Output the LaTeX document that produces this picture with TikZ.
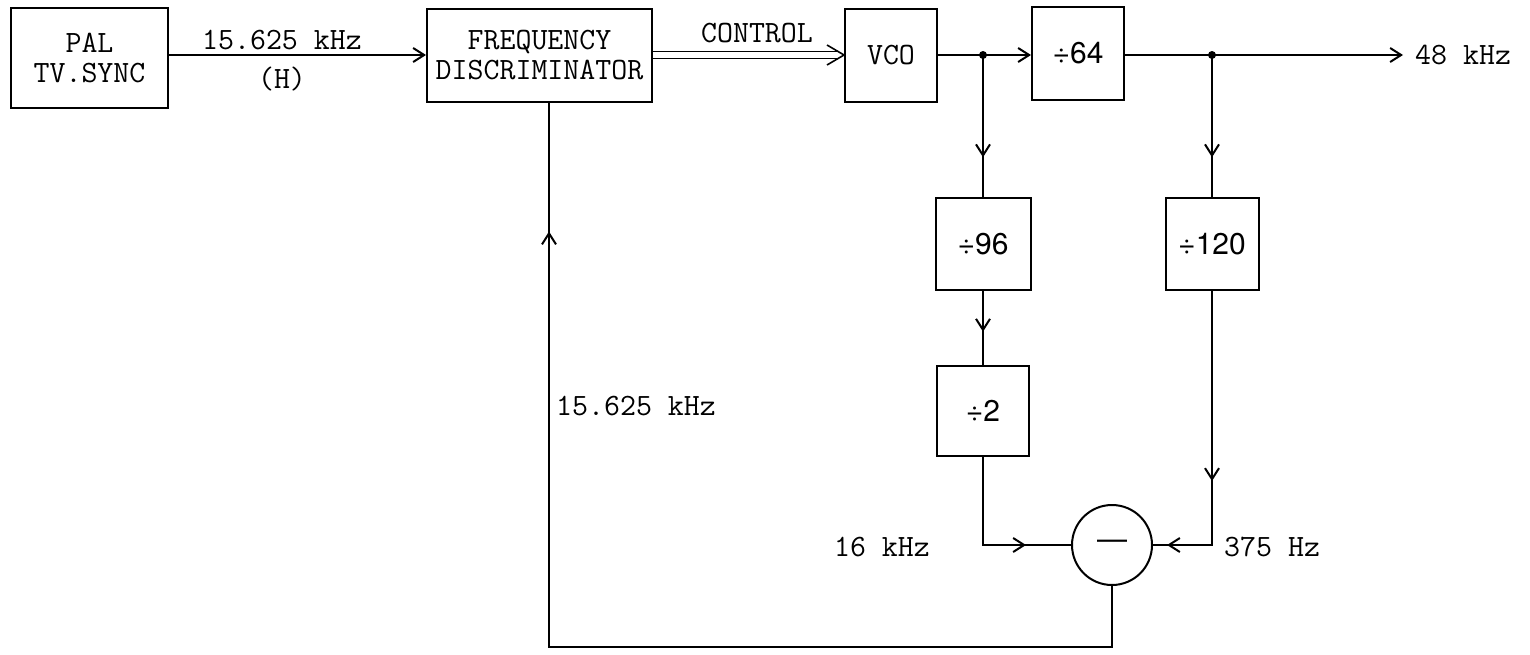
\documentclass[tikz,border=0pt]{standalone}
\usepackage{fontspec}
\newfontfamily\hv{TeX Gyre Heros}
\usetikzlibrary{arrows.meta,decorations.markings,calc}
\tikzset{
  tipA/.tip={Straight Barb[length=11pt,width=14pt]},
  blk/.style={draw, line width=2pt, align=center, inner sep=0pt, font=\fontsize{31}{30}\selectfont\ttfamily},
  dv/.style={blk, font=\fontsize{30}{34}\selectfont\hv},
  conn/.style={line width=2pt},
  lbl/.style={font=\fontsize{31}{35}\selectfont\ttfamily, inner sep=0pt},
  marr/.style={postaction={decorate, decoration={markings, mark=at position #1 with {\arrow{tipA}}}}},
  dot/.style={circle, fill, inner sep=0pt, minimum size=8pt}
}
\begin{document}
\begin{tikzpicture}[x=1pt,y=-1pt]
\useasboundingbox (0,0) rectangle (1530,654);
% blocks
\node[blk, minimum width=157pt, minimum height=100pt] (pal) at (89.5,58) {PAL\\TV.SYNC};
\node[blk, minimum width=225pt, minimum height=93pt] (freq) at (539.5,55) {FREQUENCY\\DISCRIMINATOR};
\node[blk, minimum width=92pt, minimum height=93pt] (vco) at (891,55) {VCO};
\node[dv, minimum width=92pt, minimum height=93pt] (d64) at (1078,53) {÷64};
\node[dv, minimum width=95pt, minimum height=92pt] (d96) at (983,244) {÷96};
\node[dv, minimum width=92pt, minimum height=90pt] (d2) at (983,411) {÷2};
\node[dv, minimum width=93pt, minimum height=92pt] (d120) at (1212,244) {÷120};
\node[draw, circle, line width=2pt, minimum size=80pt, inner sep=0pt, font=\fontsize{30}{34}\selectfont\hv] (sub) at (1112,545) {—};
% junctions
\coordinate (j1) at (983,55);
\coordinate (j2) at (1212,55);
\coordinate (out) at (1403,55);
\coordinate (fb) at (1112,647);
\coordinate (fbin) at (549,101.5);
\node[dot] at (j1) {};
\node[dot] at (j2) {};
% connectors
\draw[conn, -{tipA}] (pal.east |- freq.west) -- (freq.west);
\node[lbl] (l1) at (282,40) {15.625 kHz};
\node[lbl] (l2) at (282,79) {(H)};
% double control line
\draw[line width=1.6pt] ([yshift=3.5pt]freq.east) -- ([yshift=3.5pt,xshift=-5pt]vco.west);
\draw[line width=1.6pt] ([yshift=-3.5pt]freq.east) -- ([yshift=-3.5pt,xshift=-5pt]vco.west);
\draw[line width=1.6pt] ([xshift=-17pt,yshift=10pt]vco.west) -- (vco.west) -- ([xshift=-17pt,yshift=-10pt]vco.west);
\node[lbl] (lc) at (757,33) {CONTROL};
% VCO to /64
\draw[conn, -{tipA}] (vco.east) -- (d64.west |- vco.east);
\draw[conn, -{tipA}] (d64.east |- vco.east) -- (out);
\node[lbl, anchor=west] (l48) at (1415,55) {48 kHz};
% branches
\draw[conn, marr=0.72] (j1) -- (d96.north);
\draw[conn, marr=0.55] (d96.south) -- (d2.north);
\draw[conn, marr=0.72] (j2) -- (d120.north);
\draw[conn, marr=-45pt] (d2.south) |- (sub.west);
\node[lbl, anchor=east] (l16) at (930,547) {16 kHz};
\draw[conn, marr=190pt, marr=-14pt] (d120.south) |- (sub.east);
\node[lbl, anchor=west] (l375) at (1224,547) {375 Hz};
% feedback
\draw[conn, marr=-130pt] (sub.south) -- (fb) -| (fbin);
\node[lbl, anchor=west] (lfb) at (556,406) {15.625 kHz};
\end{tikzpicture}
\end{document}
